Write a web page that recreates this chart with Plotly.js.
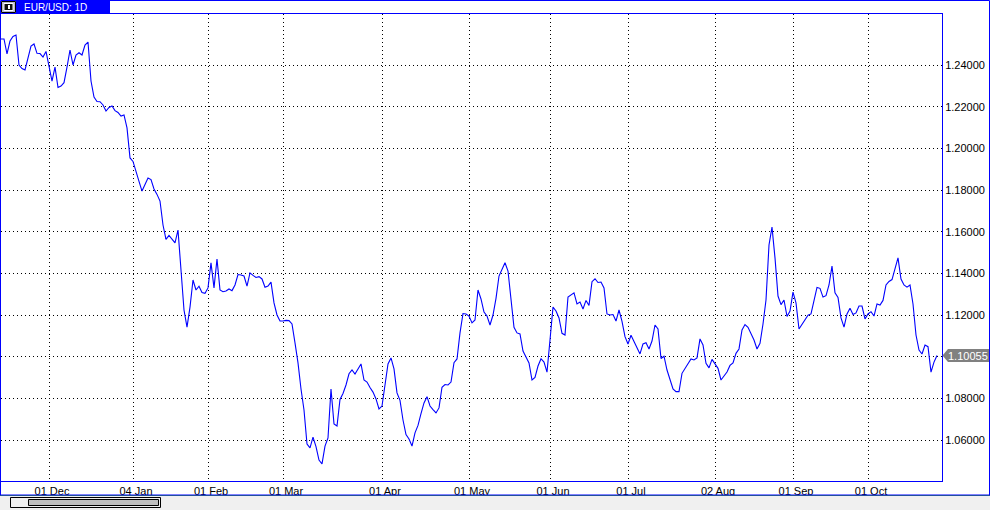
<!DOCTYPE html>
<html>
<head>
<meta charset="utf-8">
<script src="https://cdn.plot.ly/plotly-3.0.1.min.js"></script>
<style>html,body{margin:0;padding:0;background:#fff;}#chart{width:990px;height:510px;}</style>
</head>
<body>
<div id="chart"></div>
<script>
// EUR/USD daily closes (Nov 2014 - Oct 2015)
const closesNovDec = [1.2525,1.2525,1.2453,1.2515,1.2537,1.2544,1.2400,1.2383,1.2376,1.2438,1.2491,1.2501,1.2456,1.2455,1.2438,1.2465,1.2395,1.2323,1.2390,1.2292,1.2299,1.2315,1.2390,1.2472,1.2400,1.2448,1.2459,1.2448,1.2496,1.2510,1.2323,1.2246,1.2225,1.2224,1.2208,1.2179,1.2196,1.2203,1.2181,1.2172,1.2155,1.2160,1.2098,1.1954];
const closesJanFeb = [1.1937,1.1882,1.1841,1.1795,1.1824,1.1858,1.1850,1.1805,1.1779,1.1747,1.1632,1.1563,1.1582,1.1563,1.1546,1.1608,1.1416,1.1224,1.1142,1.1238,1.1368,1.1320,1.1338,1.1308,1.1304,1.1330,1.1450,1.1330,1.1469,1.1320,1.1312,1.1315,1.1325,1.1317,1.1344,1.1394,1.1392,1.1387,1.1339,1.1402,1.1390,1.1380,1.1384,1.1373,1.1333,1.1339,1.1358,1.1258,1.1200,1.1171];
const closesMarApr = [1.1171,1.1174,1.1173,1.1157,1.1066,1.0970,1.0845,1.0744,1.0581,1.0562,1.0614,1.0568,1.0504,1.0485,1.0571,1.0610,1.0845,1.0677,1.0667,1.0795,1.0823,1.0864,1.0918,1.0936,1.0917,1.0941,1.0965,1.0888,1.0878,1.0852,1.0830,1.0797,1.0749,1.0763,1.0872,1.0965,1.0994,1.0941,1.0826,1.0790,1.0696,1.0626,1.0605,1.0571,1.0634,1.0670,1.0727,1.0778,1.0808,1.0763,1.0746,1.0730,1.0754,1.0853,1.0866,1.0864,1.0878,1.0971,1.0989,1.1114,1.1207,1.1205];
const closesMayJun = [1.1195,1.1162,1.1176,1.1320,1.1277,1.1214,1.1195,1.1152,1.1200,1.1280,1.1387,1.1421,1.1451,1.1411,1.1272,1.1141,1.1114,1.1109,1.1027,1.1000,1.0970,1.0888,1.0900,1.0955,1.0990,1.0974,1.0926,1.1080,1.1238,1.1219,1.1186,1.1112,1.1104,1.1286,1.1298,1.1306,1.1253,1.1262,1.1229,1.1270,1.1246,1.1360,1.1374,1.1356,1.1358,1.1330,1.1205,1.1200,1.1202,1.1171,1.1224,1.1169,1.1096,1.1061];
const closesJulAug = [1.1103,1.1073,1.1040,1.1013,1.1061,1.1067,1.1037,1.1075,1.1152,1.1133,1.0991,1.1002,1.0936,1.0891,1.0845,1.0832,1.0832,1.0920,1.0944,1.0971,1.0989,1.0984,1.0994,1.1085,1.1056,1.0968,1.0946,1.0987,1.0968,1.0944,1.0888,1.0905,1.0926,1.0958,1.0970,1.1016,1.1037,1.1128,1.1154,1.1141,1.1109,1.1080,1.1037,1.1064,1.1157,1.1272,1.1536,1.1622,1.1474,1.1291,1.1250,1.1272,1.1193,1.1219];
const closesSepOct = [1.1310,1.1258,1.1133,1.1157,1.1176,1.1199,1.1205,1.1277,1.1332,1.1328,1.1286,1.1293,1.1344,1.1435,1.1306,1.1284,1.1186,1.1142,1.1205,1.1232,1.1202,1.1210,1.1243,1.1243,1.1181,1.1205,1.1216,1.1195,1.1253,1.1248,1.1270,1.1344,1.1361,1.1370,1.1416,1.1474,1.1373,1.1344,1.1334,1.1344,1.1253,1.1104,1.1032,1.1013,1.1056,1.1048,1.0926,1.0974,1.10055];

const closes = [].concat(closesNovDec, closesJanFeb, closesMarApr, closesMayJun, closesJulAug, closesSepOct);
const barIndex = closes.map((_, i) => i);

const xTickBars = [16, 44, 69, 94, 127, 156, 183, 209, 238, 264, 289];
const xTickLabels = ['01 Dec', '04 Jan', '01 Feb', '01 Mar', '01 Apr', '01 May', '01 Jun', '01 Jul', '02 Aug', '01 Sep', '01 Oct'];
const yTickValues = [1.06, 1.08, 1.10, 1.12, 1.14, 1.16, 1.18, 1.20, 1.22, 1.24];
const symbolTitle = 'EUR/USD: 1D';

// ---- layout geometry (pixels) ----
const W = 990, H = 510;
const M = {l: 1, r: 48, t: 14, b: 29};
const PW = W - M.l - M.r, PH = H - M.t - M.b;
const PX = x => (x - M.l) / PW;
const PY = y => (M.t + PH - y) / PH;
const BLUE = '#0000ff';
const FONT = 'Liberation Sans, Arial, sans-serif';

const last = closes[closes.length - 1];
const pxPerUnit = 2083.33;
const dv = 6.5 / pxPerUnit;

// the price marker covers the level label it sits on
const yTickText = yTickValues.map(v => Math.abs(v - last) < 0.004 ? '' : v.toFixed(5));

const rect = (x0, y0, x1, y1, fill, line, lw) => ({
  type: 'rect', xref: 'paper', yref: 'paper', layer: 'above',
  x0: PX(x0), x1: PX(x1), y0: PY(y0), y1: PY(y1),
  fillcolor: fill, line: {color: line || 'rgba(0,0,0,0)', width: lw === undefined ? 1 : lw}
});

const shapes = [
  rect(0.5, 0.5, 989.5, 495, 'rgba(0,0,0,0)', BLUE, 1),
  rect(16, 0, 110, 14, BLUE, null, 0),
  rect(1.5, 1.5, 15.5, 12.5, '#b8b8c8', '#000', 1),
  rect(4, 3.5, 13, 10.5, '#101010', '#ffffff', 1),
  rect(8, 5, 10, 9, '#ffffff', null, 0),
  rect(0, 495.5, 990, 510, '#f0f0f0', null, 0),
  {type: 'line', xref: 'paper', yref: 'paper', layer: 'above', x0: PX(0), x1: PX(990), y0: PY(495.5), y1: PY(495.5), line: {color: '#1f4f9f', width: 1}},
  rect(10.5, 497.5, 160.5, 507.5, '#f0f0f0', '#000', 1),
  rect(28.5, 499.5, 158.5, 505.5, '#c0c0c0', '#000', 1),
  {type: 'path', xref: 'paper', yref: 'y', layer: 'above', fillcolor: '#808080', line: {width: 0, color: 'rgba(0,0,0,0)'},
   path: `M ${PX(942.5)},${last} L ${PX(948)},${last + dv} L ${PX(989)},${last + dv} L ${PX(989)},${last - dv} L ${PX(948)},${last - dv} Z`}
];

const annotations = [
  {xref: 'paper', yref: 'paper', x: PX(22), y: PY(7.5), xanchor: 'left', yanchor: 'middle', showarrow: false,
   text: symbolTitle, font: {family: FONT, size: 10, color: '#ffffff'}},
  {xref: 'paper', yref: 'y', x: PX(946), y: last, xanchor: 'left', yanchor: 'middle', showarrow: false,
   text: last.toFixed(5), font: {family: FONT, size: 11, color: '#ffffff'}}
];

const trace = {
  x: barIndex, y: closes, type: 'scatter', mode: 'lines',
  line: {color: BLUE, width: 1.1}, hoverinfo: 'skip'
};

const layout = {
  width: W, height: H,
  margin: {l: M.l, r: M.r, t: M.t, b: M.b, pad: 0},
  paper_bgcolor: '#ffffff', plot_bgcolor: '#ffffff',
  showlegend: false,
  font: {family: FONT, size: 11, color: '#000'},
  xaxis: {
    range: [0, PW / 3], tickmode: 'array', tickvals: xTickBars, ticktext: xTickLabels,
    showgrid: true, gridcolor: '#000', griddash: '1px,3px', gridwidth: 1,
    zeroline: false, showline: true, linecolor: BLUE, linewidth: 1, mirror: true,
    ticks: '', ticklabelshift: 3, tickfont: {family: FONT, size: 11, color: '#000'}, fixedrange: true
  },
  yaxis: {
    range: [1.2712 - 0.00048 * 481, 1.2712 - 0.00048 * 14], side: 'right',
    tickmode: 'array', tickvals: yTickValues, ticktext: yTickText,
    showgrid: true, gridcolor: '#000', griddash: '1px,3px', gridwidth: 1,
    zeroline: false, showline: true, linecolor: BLUE, linewidth: 1, mirror: true,
    ticks: '', tickfont: {family: FONT, size: 11, color: '#000'}, fixedrange: true
  },
  shapes: shapes,
  annotations: annotations
};

Plotly.newPlot('chart', [trace], layout, {staticPlot: true, displayModeBar: false});
</script>
</body>
</html>
